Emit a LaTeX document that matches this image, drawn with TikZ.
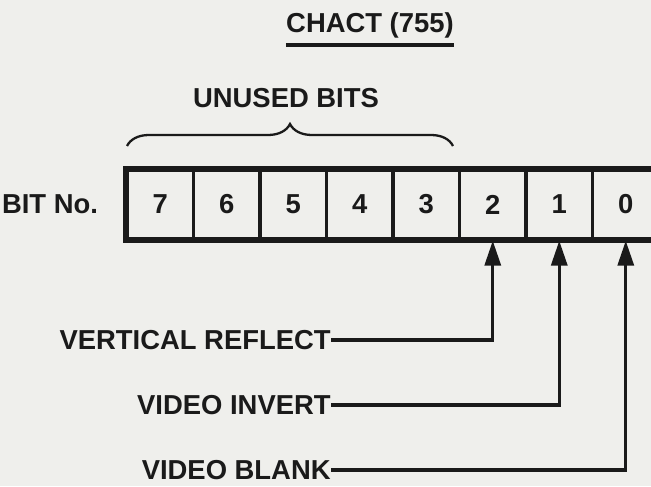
\documentclass[tikz,border=0pt]{standalone}
\usepackage{fontspec}
\setmainfont{Liberation Sans}
\usepackage{tikz}
\usetikzlibrary{positioning,arrows.meta,calc,decorations.pathreplacing}
\definecolor{paper}{HTML}{EFEFEC}
\definecolor{ink}{HTML}{1A1A1A}

\begin{document}
\begin{tikzpicture}[x=0.2mm,y=-0.2mm,
  lbl/.style={font=\bfseries\fontsize{15.6}{18}\selectfont,text=ink,inner sep=0pt},
  cell/.style={lbl,draw=ink,line width=1.9pt,minimum width=13.3mm,minimum height=13.8mm},
  feed/.style={draw=ink,line width=1.9pt,-{Triangle[length=5mm,width=3.2mm]}}]
  \useasboundingbox[fill=paper] (0,0) rectangle (651,486);
  % title
  \node[lbl] (chact) at (370,25) {CHACT (755)};
  \draw[ink,line width=1.9pt] ($(chact.south west)+(0,7)$)--($(chact.south east)+(0,7)$);
  \node[lbl] (unused) at (286,98) {UNUSED BITS};
  \draw[ink,line width=1.3pt,decorate,decoration={brace,amplitude=4.4mm}] (127,146)--(453,146);
  % register
  \foreach \b [count=\i from 0] in {7,...,0}
    \node[cell] (b\b) at ({160.25+66.5*\i},204.5) {\b};
  \draw[ink,line width=2.5pt] (b7.north west) rectangle (b0.south east);
  \node[lbl,left=5.4mm of b7] (bitno) {BIT No.};
  % flags
  \node[lbl,anchor=east] (vr) at (331,340) {VERTICAL REFLECT};
  \node[lbl,anchor=east] (vi) at (331,405) {VIDEO INVERT};
  \node[lbl,anchor=east] (vb) at (331,470) {VIDEO BLANK};
  \draw[feed] (vr.east) -| (b2.south);
  \draw[feed] (vi.east) -| (b1.south);
  \draw[feed] (vb.east) -| (b0.south);
\end{tikzpicture}
\end{document}
